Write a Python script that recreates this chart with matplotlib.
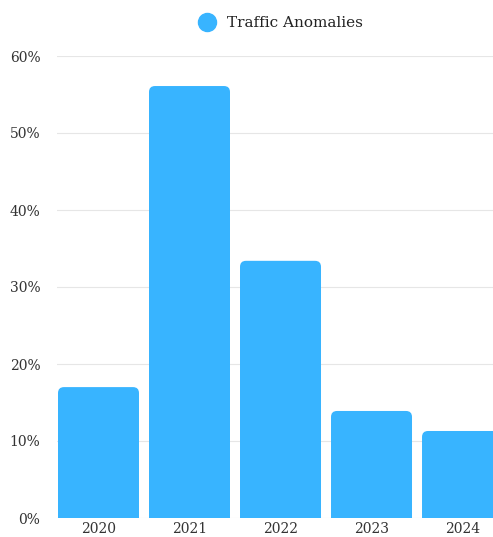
import matplotlib.pyplot as plt
from matplotlib.patches import FancyBboxPatch
from matplotlib.lines import Line2D

years = ['2020', '2021', '2022', '2023', '2024']
anomalies = [17.0, 56.1, 33.4, 13.9, 11.3]
yticks = [0, 10, 20, 30, 40, 50, 60]

bar_color = '#38B4FF'
plt.rcParams['font.family'] = ['DejaVu Serif']

fig = plt.figure(figsize=(4.93, 5.37), dpi=100)
ax = fig.add_axes([57 / 493, 19 / 537, 436 / 493, 462 / 537])

x = list(range(len(years)))
bars = ax.bar(x, anomalies, width=0.89, color=bar_color)

ax.set_xlim(-0.456, 4.335)
ax.set_ylim(0, 60)

# swap plain rectangles for ones with rounded top corners
px_x = 91.0   # pixels per category
px_y = 7.7    # pixels per percent
r = 6.0 / px_x
for b in bars:
    x0, w, h = b.get_x(), b.get_width(), b.get_height()
    b.set_visible(False)
    patch = FancyBboxPatch((x0, -2), w, h + 2,
                           boxstyle=f'round,pad=0,rounding_size={r}',
                           mutation_aspect=px_x / px_y,
                           facecolor=bar_color, edgecolor='none',
                           clip_on=True, zorder=3)
    ax.add_patch(patch)

ax.set_yticks(yticks)
ax.set_yticklabels([f'{t}%' for t in yticks])
ax.set_xticks(x)
ax.set_xticklabels(years)
ax.grid(axis='y', color='#e6e6e6', linewidth=0.8, zorder=0)
ax.set_axisbelow(True)
for s in ax.spines.values():
    s.set_visible(False)
ax.tick_params(axis='both', length=0, labelsize=10, colors='#333333')
ax.tick_params(axis='y', pad=12)
ax.tick_params(axis='x', pad=3)

handle = Line2D([], [], marker='o', linestyle='none', markersize=13,
                markerfacecolor=bar_color, markeredgecolor=bar_color)
fig.legend([handle], ['Traffic Anomalies'], loc='center',
           bbox_to_anchor=(277 / 493, 1 - 23 / 537), frameon=False,
           fontsize=11, handletextpad=0.3, labelcolor='#222222')

fig.savefig('out.png', dpi=100)
